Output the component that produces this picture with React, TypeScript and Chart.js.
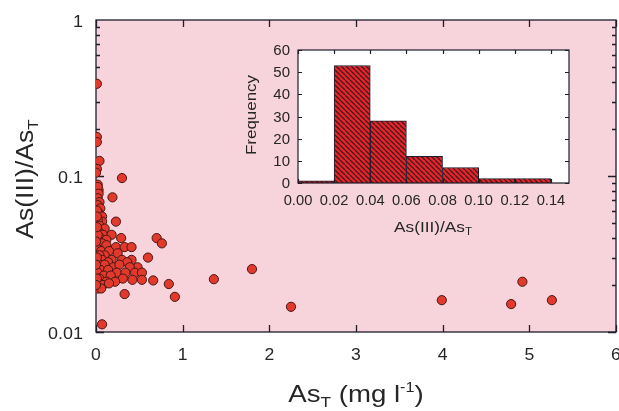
import React, { useEffect, useRef } from 'react';
import { Chart, registerables } from 'chart.js';
Chart.register(...registerables);

// Main scatter: total arsenic (mg/l) vs As(III)/As_T ratio
const asTotal = [
  0.01, 0.01, 0.01, 0.04, 0.01, 0.0, 0.30, 0.02, 0.03, 0.02,
  0.19, 0.03, 0.02, 0.04, 0.02, 0.05, 0.03, 0.07, 0.23, 0.07,
  0.02, 0.04, 0.10, 0.02, 0.08, 0.18, 0.29, 0.70, 0.76, 0.05,
  0.12, 0.03, 0.07, 0.12, 0.23, 0.33, 0.41, 0.02, 0.06, 0.15,
  0.25, 0.10, 0.04, 0.60, 0.41, 0.03, 0.07, 0.18, 0.30, 0.36,
  0.14, 0.48, 0.02, 0.05, 0.10, 0.20, 0.27, 0.39, 0.05, 0.14,
  0.24, 0.34, 0.45, 0.53, 0.02, 0.09, 0.17, 0.31, 0.42, 0.53,
  0.66, 0.04, 0.12, 0.22, 0.84, 0.03, 0.08, 0.15, 0.02, 0.06,
  0.33, 0.91, 1.36, 1.80, 2.25, 3.99, 4.79, 4.92, 5.26, 0.07,
  0.01, 0.01, 0.02, 0.01, 0.0, 0.01, 0.0, 0.01, 0.0,
];
const as3Ratio = [
  0.39, 0.178, 0.165, 0.125, 0.111, 0.105, 0.097, 0.088, 0.081, 0.085,
  0.073, 0.077, 0.072, 0.068, 0.065, 0.062, 0.058, 0.055, 0.051, 0.051,
  0.052, 0.048, 0.046, 0.045, 0.042, 0.042, 0.040, 0.040, 0.037, 0.040,
  0.039, 0.037, 0.037, 0.036, 0.035, 0.035, 0.035, 0.034, 0.033, 0.033,
  0.032, 0.031, 0.031, 0.030, 0.029, 0.029, 0.029, 0.029, 0.029, 0.028,
  0.028, 0.026, 0.026, 0.027, 0.027, 0.026, 0.027, 0.026, 0.025, 0.025,
  0.024, 0.024, 0.024, 0.024, 0.024, 0.023, 0.023, 0.022, 0.0216, 0.0216,
  0.0214, 0.022, 0.021, 0.021, 0.0203, 0.020, 0.020, 0.0205, 0.019, 0.019,
  0.0175, 0.0168, 0.0218, 0.0253, 0.0145, 0.016, 0.0151, 0.021, 0.016, 0.0112,
  0.060, 0.055, 0.042, 0.047, 0.038, 0.030, 0.027, 0.022, 0.020,
];
const xTickValues = [0, 1, 2, 3, 4, 5, 6];
const xTickLabels = ['0', '1', '2', '3', '4', '5', '6'];
const yMajorValues = [0.01, 0.1, 1];
const yMajorLabels = ['0.01', '0.1', '1'];

// Inset histogram of As(III)/As_T
const binCenters = [0.01, 0.03, 0.05, 0.07, 0.09, 0.11, 0.13];
const binCounts = [1, 53, 28, 12, 7, 2, 2];
const insetXTicks = [0, 0.02, 0.04, 0.06, 0.08, 0.1, 0.12, 0.14];
const insetXLabels = ['0.00', '0.02', '0.04', '0.06', '0.08', '0.10', '0.12', '0.14'];
const insetYTicks = [0, 10, 20, 30, 40, 50, 60];
const insetYLabels = ['0', '10', '20', '30', '40', '50', '60'];

const FONT = "'Liberation Sans', Arial, Helvetica, sans-serif";
const INK = '#1d1d2b';
const TEXT = '#262626';
const PINK = '#f7d3dc';

type Part = { t: string; size: number; dy?: number };

function drawRich(ctx: CanvasRenderingContext2D, parts: Part[], cx: number, cy: number, rotate: boolean, sx: number) {
  ctx.save();
  ctx.translate(cx, cy);
  if (rotate) ctx.rotate(-Math.PI / 2);
  ctx.scale(sx, 1);
  ctx.fillStyle = TEXT;
  ctx.textBaseline = 'alphabetic';
  ctx.textAlign = 'left';
  let total = 0;
  for (const p of parts) {
    ctx.font = `${p.size}px ${FONT}`;
    total += ctx.measureText(p.t).width;
  }
  let x = -total / 2;
  for (const p of parts) {
    ctx.font = `${p.size}px ${FONT}`;
    ctx.fillText(p.t, x, p.dy || 0);
    x += ctx.measureText(p.t).width;
  }
  ctx.restore();
}

function drawLabel(ctx: CanvasRenderingContext2D, t: string, x: number, y: number, size: number, align: 'center' | 'right', sx: number) {
  ctx.save();
  ctx.translate(x, y);
  ctx.scale(sx, 1);
  ctx.font = `${size}px ${FONT}`;
  ctx.fillStyle = TEXT;
  ctx.textBaseline = 'alphabetic';
  ctx.textAlign = align;
  ctx.fillText(t, 0, 0);
  ctx.restore();
}

function makePattern(): CanvasPattern | string {
  const s = 5;
  const c = document.createElement('canvas');
  c.width = s;
  c.height = s;
  const g = c.getContext('2d');
  if (!g) return '#e0262b';
  g.fillStyle = '#e8252c';
  g.fillRect(0, 0, s, s);
  g.strokeStyle = '#44181b';
  g.lineWidth = 1.3;
  for (const k of [-1, 0, 1]) {
    g.beginPath();
    g.moveTo(k * s, 0);
    g.lineTo(k * s + s, s);
    g.stroke();
  }
  const p = g.createPattern(c, 'repeat');
  return p || '#e0262b';
}

const mainPlugin = {
  id: 'mainDecor',
  beforeDraw(chart: any) {
    const { ctx, chartArea: a } = chart;
    ctx.save();
    ctx.fillStyle = PINK;
    ctx.fillRect(a.left, a.top, a.right - a.left, a.bottom - a.top);
    ctx.restore();
  },
  beforeDatasetsDraw(chart: any) {
    const { ctx, chartArea: a, scales } = chart;
    ctx.save();
    ctx.strokeStyle = INK;
    ctx.lineWidth = 1.3;
    ctx.strokeRect(a.left, a.top, a.right - a.left, a.bottom - a.top);
    ctx.beginPath();
    for (const t of scales.x.ticks) {
      const px = Math.round(scales.x.getPixelForValue(t.value)) + 0.5;
      ctx.moveTo(px, a.bottom);
      ctx.lineTo(px, a.bottom - 7);
      ctx.moveTo(px, a.top);
      ctx.lineTo(px, a.top + 7);
    }
    for (let d = -2; d < 0; d++) {
      for (let m = 1; m <= 9; m++) {
        const v = m * Math.pow(10, d);
        const py = Math.round(scales.y.getPixelForValue(v)) + 0.5;
        const len = m === 1 ? 8 : 4;
        ctx.moveTo(a.left, py);
        ctx.lineTo(a.left + len, py);
        ctx.moveTo(a.right, py);
        ctx.lineTo(a.right - len, py);
      }
    }
    ctx.stroke();
    ctx.restore();
  },
  afterDraw(chart: any) {
    const { ctx, chartArea: a, scales } = chart;
    scales.x.ticks.forEach((t: any, i: number) => {
      drawLabel(ctx, xTickLabels[i], scales.x.getPixelForValue(t.value), a.bottom + 28, 16, 'center', 1.1);
    });
    scales.y.ticks.forEach((t: any, i: number) => {
      drawLabel(ctx, yMajorLabels[i], a.left - 13, scales.y.getPixelForValue(t.value) + 7, 16, 'right', 1.12);
    });
    drawRich(ctx, [
      { t: 'As', size: 24 },
      { t: 'T', size: 15, dy: 5 },
      { t: ' (mg l', size: 24 },
      { t: '-1', size: 14, dy: -10 },
      { t: ')', size: 24 },
    ], 356, 402, false, 1.15);
    drawRich(ctx, [
      { t: 'As(III)/As', size: 23 },
      { t: 'T', size: 15, dy: 5 },
    ], 33, 179, true, 1.15);
  },
};

const insetPlugin = {
  id: 'insetDecor',
  beforeDraw(chart: any) {
    const { ctx, chartArea: a } = chart;
    ctx.save();
    ctx.fillStyle = '#ffffff';
    ctx.fillRect(a.left, a.top, a.right - a.left, a.bottom - a.top);
    ctx.restore();
  },
  afterDatasetsDraw(chart: any) {
    const { ctx, chartArea: a, scales } = chart;
    ctx.save();
    ctx.strokeStyle = INK;
    ctx.lineWidth = 1.2;
    ctx.strokeRect(a.left, a.top, a.right - a.left, a.bottom - a.top);
    ctx.beginPath();
    for (const t of scales.x.ticks) {
      const px = Math.round(scales.x.getPixelForValue(t.value)) + 0.5;
      ctx.moveTo(px, a.bottom);
      ctx.lineTo(px, a.bottom - 4);
      ctx.moveTo(px, a.top);
      ctx.lineTo(px, a.top + 4);
    }
    for (const t of scales.y.ticks) {
      const py = Math.round(scales.y.getPixelForValue(t.value)) + 0.5;
      ctx.moveTo(a.left, py);
      ctx.lineTo(a.left + 4, py);
      ctx.moveTo(a.right, py);
      ctx.lineTo(a.right - 4, py);
    }
    ctx.stroke();
    ctx.restore();
  },
  afterDraw(chart: any) {
    const { ctx, chartArea: a, scales } = chart;
    scales.x.ticks.forEach((t: any, i: number) => {
      drawLabel(ctx, insetXLabels[i], scales.x.getPixelForValue(t.value), a.bottom + 22, 14, 'center', 1.05);
    });
    scales.y.ticks.forEach((t: any, i: number) => {
      drawLabel(ctx, insetYLabels[i], a.left - 8, scales.y.getPixelForValue(t.value) + 5, 14, 'right', 1.07);
    });
    drawRich(ctx, [{ t: 'Frequency', size: 15 }], 16, 80, true, 1.13);
    drawRich(ctx, [
      { t: 'As(III)/As', size: 15 },
      { t: 'T', size: 10, dy: 3 },
    ], 193, 197, false, 1.15);
  },
};

export default function App() {
  const mainRef = useRef<HTMLCanvasElement | null>(null);
  const insetRef = useRef<HTMLCanvasElement | null>(null);

  useEffect(() => {
    if (!mainRef.current || !insetRef.current) return;
    const main = new Chart(mainRef.current, {
      type: 'scatter',
      data: {
        datasets: [{
          data: asTotal.map((x, i) => ({ x, y: as3Ratio[i] })),
          pointRadius: 4.6,
          backgroundColor: '#e2392d',
          borderColor: '#4a1612',
          borderWidth: 1,
        }],
      },
      options: {
        animation: false,
        responsive: false,
        maintainAspectRatio: false,
        layout: { autoPadding: false, padding: { top: 20, right: 3, left: 0, bottom: 0 } },
        plugins: { legend: { display: false }, tooltip: { enabled: false } },
        scales: {
          x: {
            type: 'linear', min: 0, max: 6,
            grid: { display: false, drawTicks: false },
            border: { display: false },
            ticks: { display: false },
            afterBuildTicks: (s: any) => { s.ticks = xTickValues.map((value) => ({ value })); },
            afterFit: (s: any) => { s.height = 79; },
          },
          y: {
            type: 'logarithmic', min: 0.01, max: 1,
            grid: { display: false, drawTicks: false },
            border: { display: false },
            ticks: { display: false },
            afterBuildTicks: (s: any) => { s.ticks = yMajorValues.map((value) => ({ value })); },
            afterFit: (s: any) => { s.width = 96; },
          },
        },
      } as any,
      plugins: [mainPlugin],
    });

    const inset = new Chart(insetRef.current, {
      type: 'bar',
      data: {
        datasets: [{
          data: binCenters.map((x, i) => ({ x, y: binCounts[i] })),
          backgroundColor: makePattern() as any,
          borderColor: INK,
          borderWidth: 1,
          barPercentage: 1,
          categoryPercentage: 1,
        }],
      },
      options: {
        animation: false,
        responsive: false,
        maintainAspectRatio: false,
        layout: { autoPadding: false, padding: { top: 15, right: 16, left: 0, bottom: 0 } },
        plugins: { legend: { display: false }, tooltip: { enabled: false } },
        scales: {
          x: {
            type: 'linear', min: 0, max: 0.15, offset: false,
            grid: { display: false, drawTicks: false, offset: false },
            border: { display: false },
            ticks: { display: false },
            afterBuildTicks: (s: any) => { s.ticks = insetXTicks.map((value) => ({ value })); },
            afterFit: (s: any) => { s.height = 57; },
          },
          y: {
            type: 'linear', min: 0, max: 60,
            grid: { display: false, drawTicks: false },
            border: { display: false },
            ticks: { display: false },
            afterBuildTicks: (s: any) => { s.ticks = insetYTicks.map((value) => ({ value })); },
            afterFit: (s: any) => { s.width = 58; },
          },
        },
      } as any,
      plugins: [insetPlugin],
    });

    return () => {
      main.destroy();
      inset.destroy();
    };
  }, []);

  return (
    <div style={{ position: 'fixed', left: 0, top: 0, width: 619, height: 411, background: '#ffffff' }}>
      <canvas ref={mainRef} width={619} height={411} style={{ position: 'absolute', left: 0, top: 0, width: 619, height: 411 }} />
      <canvas ref={insetRef} width={345} height={205} style={{ position: 'absolute', left: 240, top: 35, width: 345, height: 205 }} />
    </div>
  );
}
